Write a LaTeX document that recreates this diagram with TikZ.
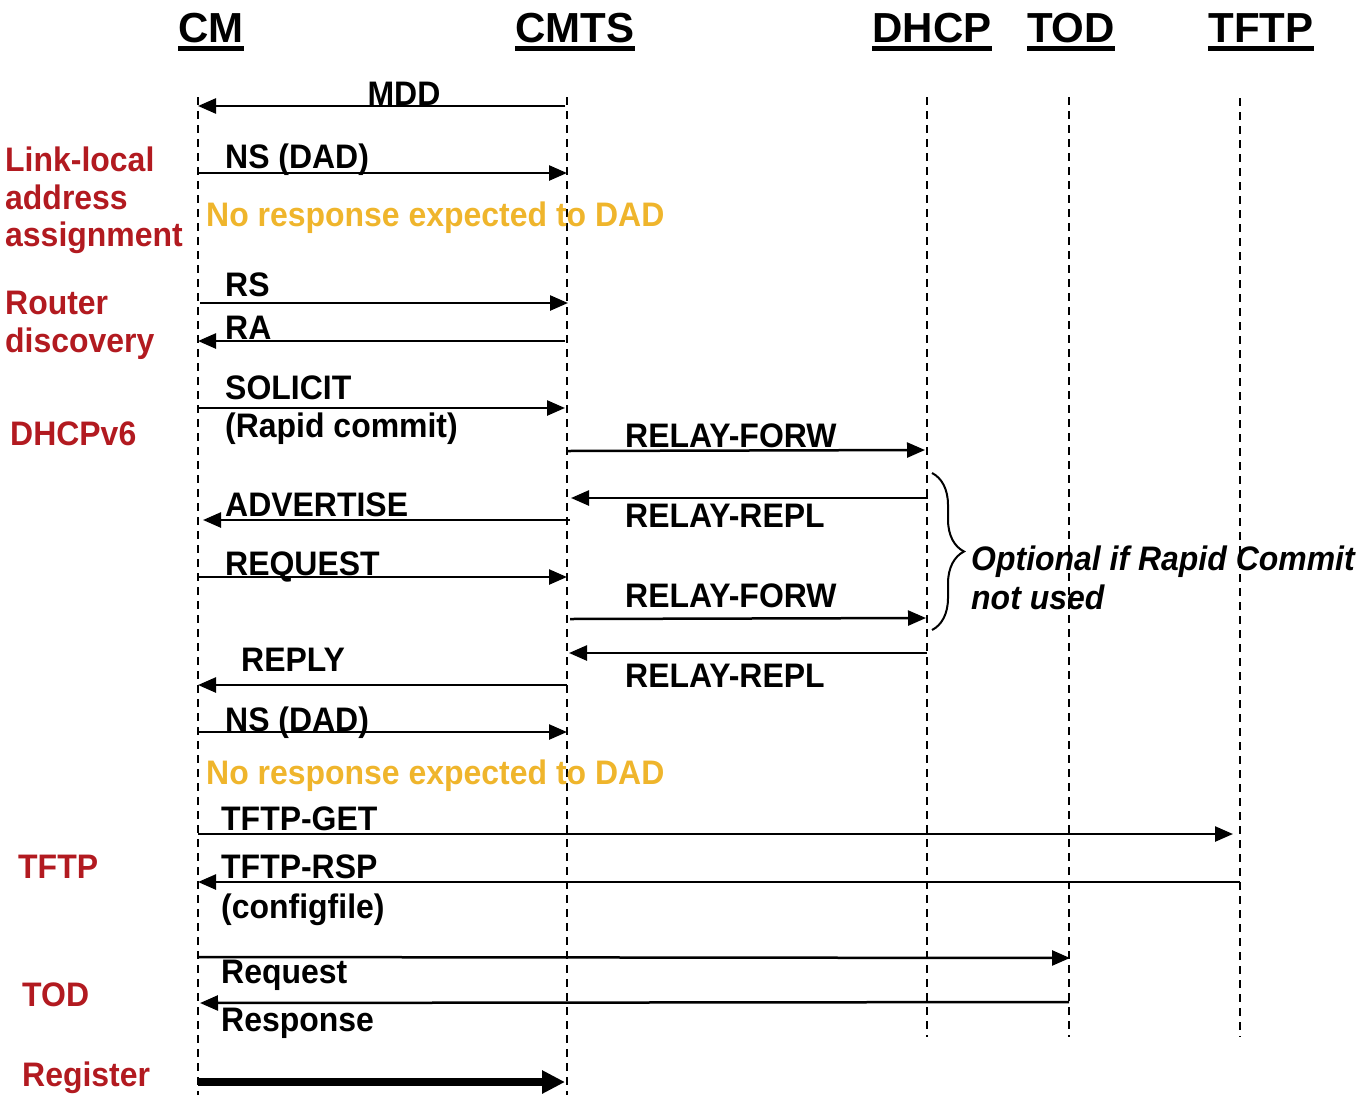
\documentclass[tikz,border=0pt]{standalone}
\usepackage{fontspec}
\setmainfont{Liberation Sans}[FakeStretch=0.94]
\newfontfamily\headfont{Liberation Sans}
\usetikzlibrary{arrows.meta,decorations.pathreplacing}
\definecolor{phase}{RGB}{178,26,32}
\definecolor{note}{RGB}{239,181,44}
\tikzset{
  lifeline/.style={line width=2.2pt,dash pattern=on 8pt off 6pt},
  msg/.style={line width=2.5pt,-{Triangle[length=18pt,width=15pt]}},
  bigmsg/.style={line width=8pt,-{Triangle[length=23pt,width=22pt]}},
  head/.style={inner sep=0pt,anchor=base,font=\headfont\fontsize{42}{46}\selectfont\bfseries},
  lbl/.style={inner sep=0pt,anchor=base west,font=\fontsize{34}{38}\selectfont\bfseries},
  phaselbl/.style={lbl,text=phase},
  notelbl/.style={lbl,text=note},
}
\begin{document}
\begin{tikzpicture}[x=1pt,y=-1pt]
\useasboundingbox (0,0) rectangle (1364,1095);

% participants
\foreach \n/\x in {CM/211,CMTS/575,DHCP/932,TOD/1071,TFTP/1261}{
  \node[head] (h\n) at (\x,42) {\n};
  \fill ([yshift=-4pt]h\n.base west) rectangle ([yshift=-9pt]h\n.base east);
}

% lifelines
\coordinate (cm-t) at (198,97);   \coordinate (cm-b) at (198,1095);
\coordinate (cmts-t) at (567,97); \coordinate (cmts-b) at (567,1095);
\coordinate (dhcp-t) at (927,97); \coordinate (dhcp-b) at (927,1037);
\coordinate (tod-t) at (1069,97); \coordinate (tod-b) at (1069,1037);
\coordinate (tftp-t) at (1240,98);\coordinate (tftp-b) at (1240,1037);
\foreach \l in {cm,cmts,dhcp,tod,tftp}{\draw[lifeline] (\l-t) -- (\l-b);}

% phase labels
\node[phaselbl] (p1) at (5,171) {Link-local};
\node[phaselbl] (p2) at (5,209) {address};
\node[phaselbl] (p3) at (5,246) {assignment};
\node[phaselbl] (p4) at (5,314) {Router};
\node[phaselbl] (p5) at (5,352) {discovery};
\node[phaselbl] (p6) at (10,445) {DHCPv6};
\node[phaselbl] (p7) at (18,878) {TFTP};
\node[phaselbl] (p8) at (22,1006) {TOD};
\node[phaselbl] (p9) at (22,1086) {Register};

% message end points
\coordinate (a1) at (565,106); \coordinate (b1) at (198,106);
\coordinate (a2) at (198,173); \coordinate (b2) at (567,173);
\coordinate (a3) at (200,303); \coordinate (b3) at (568,303);
\coordinate (a4) at (565,341); \coordinate (b4) at (198,341);
\coordinate (a5) at (198,408); \coordinate (b5) at (565,408);
\coordinate (a6) at (568,451); \coordinate (b6) at (925,450);
\coordinate (a7) at (928,498); \coordinate (b7) at (571,498);
\coordinate (a8) at (570,520); \coordinate (b8) at (203,520);
\coordinate (a9) at (198,577); \coordinate (b9) at (567,577);
\coordinate (a10) at (570,619); \coordinate (b10) at (926,618);
\coordinate (a11) at (927,653); \coordinate (b11) at (569,653);
\coordinate (a12) at (567,685); \coordinate (b12) at (198,685);
\coordinate (a13) at (198,732); \coordinate (b13) at (567,732);
\coordinate (a14) at (198,834); \coordinate (b14) at (1233,834);
\coordinate (a15) at (1240,882); \coordinate (b15) at (198,882);
\coordinate (a16) at (198,957); \coordinate (b16) at (1070,958);
\coordinate (a17) at (1069,1002); \coordinate (b17) at (200,1003);
\coordinate (a18) at (198,1082); \coordinate (b18) at (565,1082);

\foreach \i in {1,...,17}{\draw[msg] (a\i) -- (b\i);}
\draw[bigmsg] (a18) -- (b18);

% message labels
\node[lbl,anchor=base] (t1) at (404,105) {MDD};
\node[lbl] (t2) at (225,168) {NS (DAD)};
\node[notelbl] (t3) at (206,226) {No response expected to DAD};
\node[lbl] (t4) at (225,296) {RS};
\node[lbl] (t5) at (225,339) {RA};
\node[lbl] (t6) at (225,399) {SOLICIT};
\node[lbl] (t7) at (225,437) {(Rapid commit)};
\node[lbl] (t8) at (625,447) {RELAY-FORW};
\node[lbl] (t9) at (625,527) {RELAY-REPL};
\node[lbl] (t10) at (225,516) {ADVERTISE};
\node[lbl] (t11) at (225,575) {REQUEST};
\node[lbl] (t12) at (625,607) {RELAY-FORW};
\node[lbl] (t13) at (625,687) {RELAY-REPL};
\node[lbl] (t14) at (241,671) {REPLY};
\node[lbl] (t15) at (225,731) {NS (DAD)};
\node[notelbl] (t16) at (206,784) {No response expected to DAD};
\node[lbl] (t17) at (221,830) {TFTP-GET};
\node[lbl] (t18) at (221,878) {TFTP-RSP};
\node[lbl] (t19) at (221,918) {(configfile)};
\node[lbl] (t20) at (221,983) {Request};
\node[lbl] (t21) at (221,1031) {Response};

% optional block brace
\coordinate (br-t) at (932,473);
\coordinate (br-b) at (932,630);
\draw[line width=2pt,decorate,decoration={brace,amplitude=32pt,aspect=0.5}] (br-t) -- (br-b);
\node[lbl,font=\fontsize{34}{38}\selectfont\bfseries\itshape] (opt1) at (971,570) {Optional if Rapid Commit};
\node[lbl,font=\fontsize{34}{38}\selectfont\bfseries\itshape] (opt2) at (971,609) {not used};
\end{tikzpicture}
\end{document}
